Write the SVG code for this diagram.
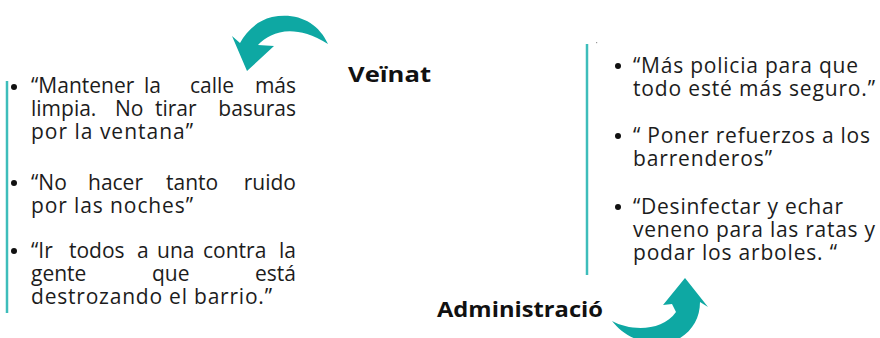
<svg xmlns="http://www.w3.org/2000/svg" width="880" height="338" viewBox="0 0 880 338">
<style>
.t{font-family:"Open Sans","Noto Sans","Liberation Sans",sans-serif;font-size:21px;fill:#1c1c1c}
.h{font-family:"Open Sans","Noto Sans","Liberation Sans",sans-serif;font-size:22px;font-weight:bold;fill:#111}
.bar{stroke:#3dbdbb;stroke-width:2.5}
.arrow{fill:#0ea8a3}
.b{fill:#111}
</style>
<rect width="880" height="338" fill="#fff"/>
<g id="connectors">
<path class="arrow" d="M328,44 C318,22 297,12 272,17 C256,21 246,32 240,43 L232,36 L247,71 L274,46 L258,45 C270,33 292,22 328,44 Z"/>
<path class="arrow" d="M612,321 C630,331 662,332 676,312 L672,304 L663,305 L685,278 L708,307 L700,302 C700,320 690,335 672,342 C650,348 625,338 612,321 Z"/>
</g>
<g id="veinat">
<text class="h" x="348" y="82" textLength="83" lengthAdjust="spacingAndGlyphs">Veïnat</text>
</g>
<g id="veinat-list">
<line class="bar" x1="7" y1="81" x2="7" y2="313"/>
<circle class="b" cx="14" cy="87" r="3"/>
<circle class="b" cx="14" cy="183" r="3"/>
<circle class="b" cx="14" cy="251" r="3"/>
<text class="t"><tspan x="31" y="93">“Mantener</tspan><tspan x="144" y="93">la</tspan><tspan x="190" y="93">calle</tspan><tspan x="296" y="93" text-anchor="end">más</tspan></text>
<text class="t"><tspan x="31" y="116">limpia.</tspan><tspan x="115" y="116">No</tspan><tspan x="155" y="116">tirar</tspan><tspan x="296" y="116" text-anchor="end">basuras</tspan></text>
<text class="t" x="31" y="139" textLength="162" lengthAdjust="spacing">por la ventana”</text>
<text class="t"><tspan x="31" y="190">“No</tspan><tspan x="88" y="190">hacer</tspan><tspan x="166" y="190">tanto</tspan><tspan x="296" y="190" text-anchor="end">ruido</tspan></text>
<text class="t" x="31" y="213" textLength="162" lengthAdjust="spacing">por las noches”</text>
<text class="t"><tspan x="31" y="258">“Ir</tspan><tspan x="69" y="258">todos</tspan><tspan x="137" y="258">a</tspan><tspan x="157" y="258">una</tspan><tspan x="203" y="258">contra</tspan><tspan x="296" y="258" text-anchor="end">la</tspan></text>
<text class="t"><tspan x="31" y="281">gente</tspan><tspan x="152" y="281">que</tspan><tspan x="296" y="281" text-anchor="end">está</tspan></text>
<text class="t" x="31" y="304" textLength="241" lengthAdjust="spacing">destrozando el barrio.”</text>
</g>
<g id="administracio">
<text class="h" x="437" y="317" textLength="166" lengthAdjust="spacingAndGlyphs">Administració</text>
</g>
<g id="administracio-list">
<line class="bar" x1="587" y1="44" x2="587" y2="275"/>
<rect x="596" y="42" width="1.2" height="1.2" fill="#999"/>
<circle class="b" cx="618" cy="66" r="3"/>
<circle class="b" cx="618" cy="136" r="3"/>
<circle class="b" cx="618" cy="207" r="3"/>
<text class="t" x="633" y="73" textLength="225" lengthAdjust="spacing">“Más policia para que</text>
<text class="t" x="633" y="96" textLength="242" lengthAdjust="spacing">todo esté más seguro.”</text>
<text class="t" x="633" y="143" textLength="237" lengthAdjust="spacing">“ Poner refuerzos a los</text>
<text class="t" x="633" y="166" textLength="139" lengthAdjust="spacing">barrenderos”</text>
<text class="t" x="633" y="214" textLength="210" lengthAdjust="spacing">“Desinfectar y echar</text>
<text class="t" x="633" y="237" textLength="242" lengthAdjust="spacing">veneno para las ratas y</text>
<text class="t" x="633" y="260" textLength="204" lengthAdjust="spacing">podar los arboles. “</text>
</g>
</svg>
